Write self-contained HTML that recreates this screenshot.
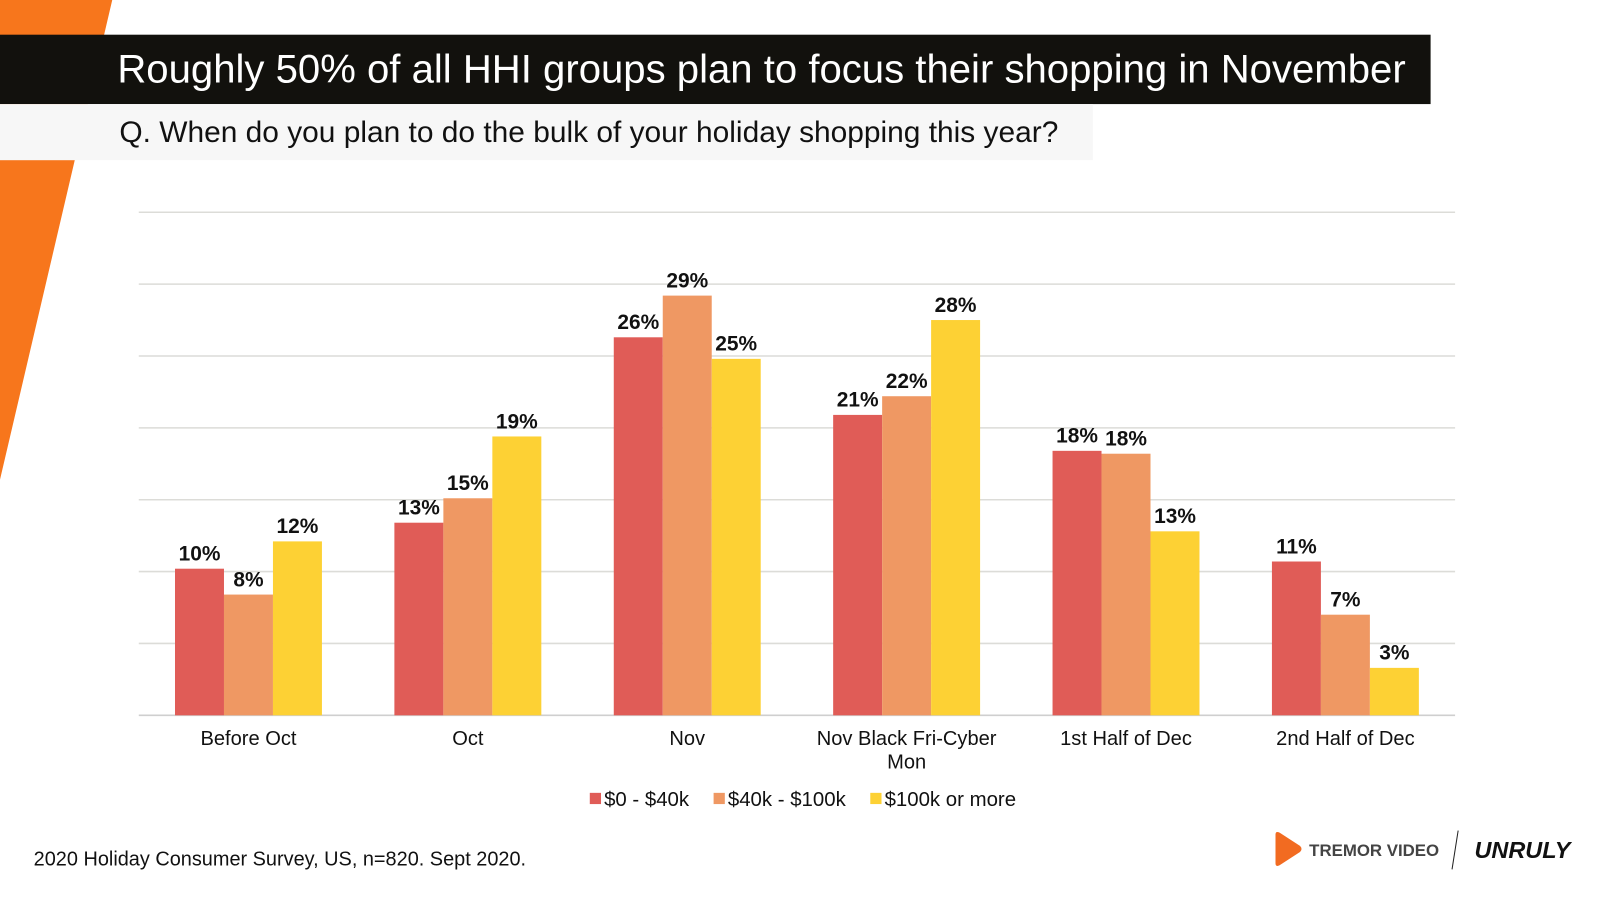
<!DOCTYPE html>
<html><head><meta charset="utf-8"><style>
body{margin:0;width:1600px;height:900px;background:#fff;position:relative;overflow:hidden;font-family:"Liberation Sans",Arial,sans-serif}
#wrap{position:absolute;left:0;top:0;width:1600px;height:900px;transform:scale(1.0204);transform-origin:0 0}
.abs{position:absolute}
</style></head><body>
<div id="wrap">
<svg class="abs" style="left:0;top:0" width="1600" height="900">
<polygon points="0,0 110,0 0,470" fill="#f7761c"/>
</svg>
<div class="abs" style="left:0;top:34px;width:1402px;height:68px;background:#12110d;color:#fff;font-size:39.3px;line-height:68px;white-space:nowrap"><span style="position:absolute;left:115px">Roughly 50% of all HHI groups plan to focus their shopping in November</span></div>
<div class="abs" style="left:0;top:102px;width:1071px;height:55px;background:#f7f7f7;color:#111;font-size:29.3px;line-height:55px;white-space:nowrap"><span style="position:absolute;left:117px">Q. When do you plan to do the bulk of your holiday shopping this year?</span></div>
<svg id="chart" class="abs" style="left:0;top:0" width="1600" height="900"></svg>
<div class="abs" style="left:33px;top:831px;font-size:19.5px;color:#111;white-space:nowrap">2020 Holiday Consumer Survey, US, n=820. Sept 2020.</div>
<svg class="abs" style="left:1245px;top:812px" width="300" height="44">
<path d="M5,6 Q5,2 9,4 L29,17 Q32,20 29,23 L9,36 Q5,38 5,34 Z" fill="#f26b21"/>
<text x="38" y="27" font-family="Liberation Sans" font-weight="bold" font-size="16.5" fill="#444">TREMOR VIDEO</text>
<line x1="184" y1="2" x2="178" y2="40" stroke="#222" stroke-width="1"/>
<text x="200" y="29" font-family="Liberation Sans" font-weight="bold" font-style="italic" font-size="23" fill="#111">UNRULY</text>
</svg>
</div>
<script>
const categories=["Before Oct","Oct","Nov","Nov Black Fri-Cyber Mon","1st Half of Dec","2nd Half of Dec"];
const seriesNames=["$0 - $40k","$40k - $100k","$100k or more"];
const low=[10.2,13.4,26.3,20.9,18.4,10.7];
const mid=[8.4,15.1,29.2,22.2,18.2,7.0];
const high=[12.1,19.4,24.8,27.5,12.8,3.3];
const yTicks=[0,5,10,15,20,25,30,35];
const colors=["#e05c57","#ef9863","#fdd134"];
const svg=document.getElementById('chart');const NS="http://www.w3.org/2000/svg";
const x0=136,x1=1426,yb=701,yt=208,ymax=35;
const y=v=>yb-(v/ymax)*(yb-yt);
const band=(x1-x0)/categories.length;
function mk(t,a){const e=document.createElementNS(NS,t);for(const k in a)e.setAttribute(k,a[k]);svg.appendChild(e);return e;}
yTicks.forEach(t=>{const l=mk('line',{x1:x0,x2:x1,y1:y(t),y2:y(t),stroke:t===0?'#cfcfcf':'#dcdcd8','stroke-width':1.5});

});
const series=[low,mid,high];const bw=48;
categories.forEach((c,i)=>{const cx=x0+band*(i+0.5);
series.forEach((s,j)=>{const bx=cx-bw*1.5+j*bw;const r=mk('rect',{x:bx,y:y(s[i]),width:bw,height:yb-y(s[i]),fill:colors[j]});


const t=mk('text',{x:bx+bw/2,y:y(s[i])-8,'text-anchor':'middle','font-size':20.5,'font-weight':'bold',fill:'#111','font-family':'Liberation Sans'});t.textContent=Math.round(s[i])+'%';

});
const words=c==="Nov Black Fri-Cyber Mon"?["Nov Black Fri-Cyber","Mon"]:[c];
words.forEach((w,k)=>{const t=mk('text',{x:cx,y:730+k*23,'text-anchor':'middle','font-size':19.7,fill:'#111','font-family':'Liberation Sans'});t.textContent=w;

});});
let lx=578;seriesNames.forEach((n,j)=>{const r=mk('rect',{x:lx,y:777,width:11,height:11,fill:colors[j]});


const t=mk('text',{x:lx+14,y:790,'font-size':20,fill:'#111','font-family':'Liberation Sans'});t.textContent=n;


lx+=14+t.getComputedTextLength()+24;});
</script>
</body></html>
